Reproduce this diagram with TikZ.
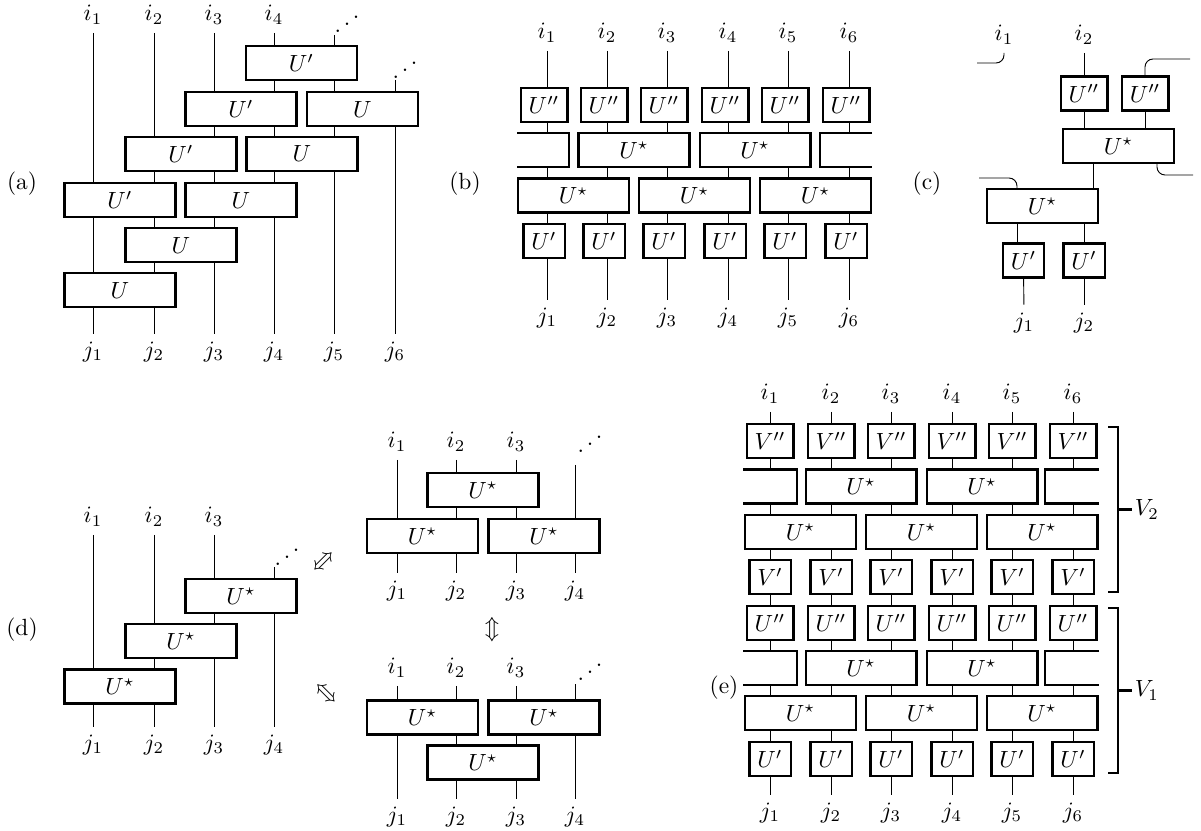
\documentclass[tikz,border=0pt]{standalone}
\usepackage{amsmath,graphicx}
\usetikzlibrary{calc}

\newcommand{\updots}{\reflectbox{$\ddots$}}
% half brick at the edge of a row: open side, closed side, row centre
\newcommand{\halfbrick}[3]{%
  \fill[white] (#1,#3-17) rectangle (#2,#3+17);
  \draw[line width=1pt] (#1,#3-17) -| (#2,#3+17) -- (#1,#3+17);}

\tikzset{
  gate/.style={draw, line width=1pt, fill=white, rectangle, inner sep=0pt, minimum height=0.51cm},
  wide/.style={gate, minimum width=1.66cm},
  dbl/.style={gate, minimum width=0.70cm},
  sgl/.style={gate, minimum width=0.62cm},
  bracelbl/.style={inner sep=1pt, anchor=west},
}

\begin{document}
\begin{tikzpicture}[x=0.015cm, y=-0.015cm]
\useasboundingbox (0,0) rectangle (1201,831);

% (a)
\node (a) at (22,184) {(a)};
\foreach \k/\x in {1/93,2/154,3/214,4/274}
  \node (ai\k) at (\x,15) {$i_\k$};
\foreach \k/\x in {1/93,2/154,3/214,4/274,5/334,6/395}
  \node (aj\k) at (\x,352) {$j_\k$};
\node (ad1) at (347,17) {\updots};
\node (ad2) at (405,63) {\updots};
\coordinate (at5) at (334,35);
\coordinate (at6) at (395,80);
\foreach \k in {1,...,4}
  \draw (ai\k) -- (aj\k);
\draw (at5) -- (aj5);
\draw (at6) -- (aj6);
\foreach \n/\x/\y/\t in {11/301.5/63/U', 21/241/109/U', 22/362.5/109/U,
    31/181/154/U', 32/302/154/U, 41/120/200/U', 42/241/200/U,
    51/181/245/U, 61/120/290/U}
  \node[wide] (a\n) at (\x,\y) {$\t$};

% (b)
\node (b) at (465,184) {(b)};
\foreach \k/\x in {1/547,2/607,3/667,4/728,5/788,6/849} {
  \node (bi\k) at (\x,33) {$i_\k$};
  \node (bj\k) at (\x,318) {$j_\k$};
  \draw (bi\k) -- (bj\k);
  \node[dbl] (bu\k) at (\x-3,105) {$U''$};
  \node[sgl] (bp\k) at (\x-3,241) {$U'$};
}
\halfbrick{517}{569}{150}
\halfbrick{872}{820}{150}
\node[wide] (bs1) at (634,150) {$U^\star$};
\node[wide] (bs2) at (755,150) {$U^\star$};
\node[wide] (bs3) at (573.5,195.5) {$U^\star$};
\node[wide] (bs4) at (694.5,195.5) {$U^\star$};
\node[wide] (bs5) at (815.5,195.5) {$U^\star$};

% (c)
\node (c) at (927,184) {(c)};
\node (ci1) at (1004,35) {$i_1$};
\node (ci2) at (1084,35) {$i_2$};
\node[dbl] (cu1) at (1084,93.5) {$U''$};
\node[dbl] (cu2) at (1145,93.5) {$U''$};
\node[wide] (cs1) at (1118.5,146) {$U^\star$};
\node[wide] (cs2) at (1042.5,206) {$U^\star$};
\node[sgl] (cp1) at (1023.5,260.5) {$U'$};
\node[sgl] (cp2) at (1084,260.5) {$U'$};
\node (cj1) at (1024,323) {$j_1$};
\node (cj2) at (1084,323) {$j_2$};
\coordinate (cx1) at (1017,0);
\coordinate (cx3) at (1093,0);
\coordinate (cx5) at (1157,0);
\coordinate (ce1) at (977,63);
\coordinate (ce2) at (1190,59);
\coordinate (ce3) at (1193,175);
\coordinate (ce4) at (979,178);
\draw[rounded corners=0.12cm] (ci1) |- (ce1);
\draw (ci2) -- (cu1);
\draw[rounded corners=0.12cm] (cu2.north) |- (ce2);
\draw (cu1.south) -- (cu1.south |- cs1.north);
\draw (cu2.south) -- (cu2.south |- cs1.north);
\draw[rounded corners=0.12cm] (cs1.south -| cx5) |- (ce3);
\draw (cs1.south -| cx3) -- (cs2.north -| cx3);
\draw[rounded corners=0.12cm] (cs2.north -| cx1) |- (ce4);
\draw (cs2.south -| cx1) -- (cp1.north -| cx1);
\draw (cs2.south -| cp2.north) -- (cp2.north);
\draw (cp1) -- (cj1);
\draw (cp2) -- (cj2);

% (d), staircase
\node (d) at (22,630) {(d)};
\foreach \k/\x in {1/93,2/154,3/214}
  \node (di\k) at (\x,517) {$i_\k$};
\foreach \k/\x in {1/93,2/154,3/214,4/274}
  \node (dj\k) at (\x,745) {$j_\k$};
\node (dd) at (287,550) {\updots};
\coordinate (dt4) at (274,567);
\foreach \k in {1,2,3}
  \draw (di\k) -- (dj\k);
\draw (dt4) -- (dj4);
\node[wide] (ds1) at (241,596) {$U^\star$};
\node[wide] (ds2) at (181,641) {$U^\star$};
\node[wide] (ds3) at (120,686.5) {$U^\star$};

% (d), upper brick
\foreach \k/\x in {1/397,2/456,3/516}
  \node (dui\k) at (\x,442) {$i_\k$};
\foreach \k/\x in {1/397,2/456,3/516,4/575}
  \node (duj\k) at (\x,591) {$j_\k$};
\node (dud) at (590,437) {\updots};
\coordinate (dut4) at (575,465);
\foreach \k in {1,2,3}
  \draw (dui\k) -- (duj\k);
\draw (dut4) -- (duj4);
\node[wide] (dus1) at (483,490) {$U^\star$};
\node[wide] (dus2) at (422.5,536) {$U^\star$};
\node[wide] (dus3) at (544,536) {$U^\star$};

% (d), lower brick
\foreach \k/\x in {1/397,2/456,3/516}
  \node (dli\k) at (\x,668) {$i_\k$};
\foreach \k/\x in {1/397,2/456,3/516,4/575}
  \node (dlj\k) at (\x,817) {$j_\k$};
\node (dld) at (590,665) {\updots};
\coordinate (dlt4) at (575,684);
\foreach \k in {1,2,3}
  \draw (dli\k) -- (dlj\k);
\draw (dlt4) -- (dlj4);
\node[wide] (dls1) at (422.5,717.5) {$U^\star$};
\node[wide] (dls2) at (544,717.5) {$U^\star$};
\node[wide] (dls3) at (483,762.5) {$U^\star$};

\node[rotate=-45] (dar1) at (323,561) {$\Updownarrow$};
\node (dar2) at (492,630) {$\Updownarrow$};
\node[rotate=45] (dar3) at (326,693) {$\Updownarrow$};

% (e)
\node (e) at (724,688) {(e)};
\foreach \k/\x in {1/770,2/831,3/891,4/952,5/1012,6/1073} {
  \node (ei\k) at (\x,394) {$i_\k$};
  \node (ej\k) at (\x,813) {$j_\k$};
  \draw (ei\k) -- (ej\k);
  \node[dbl] (evv\k) at (\x,441) {$V''$};
  \node[sgl] (ev\k) at (\x,577) {$V'$};
  \node[dbl] (euu\k) at (\x,623) {$U''$};
  \node[sgl] (eu\k) at (\x,759) {$U'$};
}
\foreach \r/\y in {1/486.5,2/668} {
  \halfbrick{743}{797}{\y}
  \halfbrick{1099}{1045}{\y}
  \node[wide] (eb\r1) at (861,\y) {$U^\star$};
  \node[wide] (eb\r2) at (982,\y) {$U^\star$};
}
\foreach \r/\y in {1/532,2/713} {
  \node[wide] (ef\r1) at (800.5,\y) {$U^\star$};
  \node[wide] (ef\r2) at (921.5,\y) {$U^\star$};
  \node[wide] (ef\r3) at (1042,\y) {$U^\star$};
}
\draw[line width=1pt] (1108,427) -- (1118,427) -- (1118,592) -- (1108,592);
\draw[line width=1pt] (1108,608) -- (1118,608) -- (1118,773) -- (1108,773);
\coordinate (eb2) at (1118,509.5);
\coordinate (eb1) at (1118,690.5);
\node[bracelbl] (v2) at (1132,509.5) {$V_2$};
\node[bracelbl] (v1) at (1132,690.5) {$V_1$};
\draw[line width=1pt] (eb2) -- (v2.west);
\draw[line width=1pt] (eb1) -- (v1.west);
\end{tikzpicture}
\end{document}
